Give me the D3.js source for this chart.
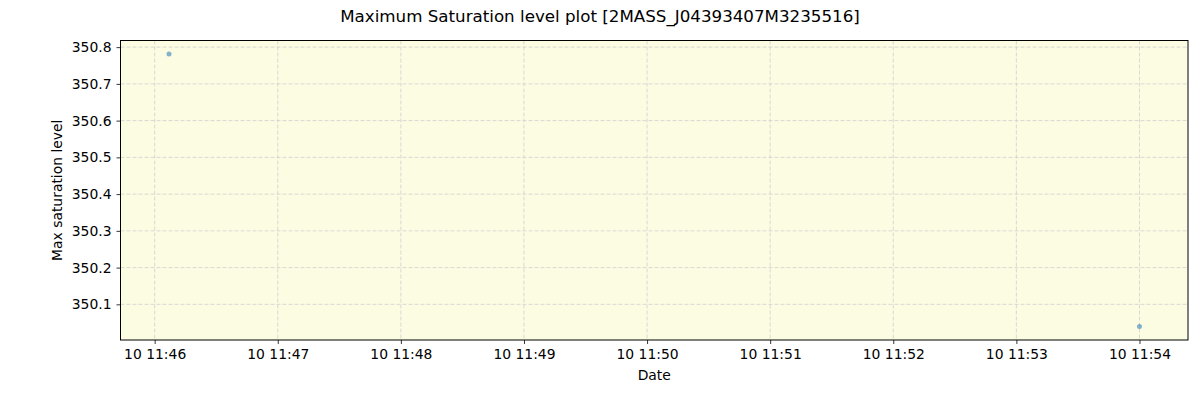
<!DOCTYPE html>
<html>
<head>
<meta charset="utf-8">
<script src="https://cdn.jsdelivr.net/npm/d3@7"></script>
<style>
  body { margin: 0; background: #fff; }
  text { font-family: "DejaVu Sans", sans-serif; }
</style>
</head>
<body>
<script>
// data
const times = ["2024-01-10T11:46:07", "2024-01-10T11:54:00"];
const levels = [350.781, 350.04];
const yTicks = [350.1, 350.2, 350.3, 350.4, 350.5, 350.6, 350.7, 350.8];
const xTickTimes = ["11:46", "11:47", "11:48", "11:49", "11:50", "11:51", "11:52", "11:53", "11:54"];

const width = 1200, height = 400;
const margin = {top: 40.5, right: 12, bottom: 60, left: 120.5};
const parse = d3.isoParse;
const points = times.map((t, i) => ({date: parse(t), value: levels[i]}));

const svg = d3.select('body').append('svg')
    .attr('width', width)
    .attr('height', height);

// matplotlib style 5% padding
const tExt = d3.extent(points, d => +d.date);
const tPad = (tExt[1] - tExt[0]) * 0.05;
const vExt = d3.extent(points, d => d.value);
const vPad = (vExt[1] - vExt[0]) * 0.05;

const x = d3.scaleTime()
    .domain([new Date(tExt[0] - tPad), new Date(tExt[1] + tPad)])
    .range([margin.left, width - margin.right]);
const y = d3.scaleLinear()
    .domain([vExt[0] - vPad, vExt[1] + vPad])
    .range([height - margin.bottom, margin.top]);

const xTicks = xTickTimes.map(t => parse("2024-01-10T" + t + ":00"));

svg.append('rect')
    .attr('x', margin.left).attr('y', margin.top)
    .attr('width', width - margin.right - margin.left)
    .attr('height', height - margin.bottom - margin.top)
    .attr('fill', '#fcfce3');

// grid
svg.append('g').selectAll('line')
    .data(xTicks).enter().append('line')
    .attr('x1', d => x(d)).attr('x2', d => x(d))
    .attr('y1', margin.top).attr('y2', height - margin.bottom)
    .attr('stroke', '#cfcfcf').attr('stroke-width', 0.8)
    .attr('stroke-dasharray', '4,2');
svg.append('g').selectAll('line')
    .data(yTicks).enter().append('line')
    .attr('x1', margin.left).attr('x2', width - margin.right)
    .attr('y1', d => y(d)).attr('y2', d => y(d))
    .attr('stroke', '#cfcfcf').attr('stroke-width', 0.8)
    .attr('stroke-dasharray', '4,2');

// points
svg.append('g').selectAll('circle')
    .data(points).enter().append('circle')
    .attr('cx', d => x(d.date))
    .attr('cy', d => y(d.value))
    .attr('r', 2.5)
    .attr('fill', '#1f77b4')
    .attr('opacity', 0.55);

// axes
const fmt = d3.timeFormat('%d %H:%M');
const xAxis = svg.append('g')
    .attr('transform', `translate(0,${height - margin.bottom})`)
    .call(d3.axisBottom(x).tickValues(xTicks).tickFormat(fmt).tickSize(4).tickPadding(5));
const yAxis = svg.append('g')
    .attr('transform', `translate(${margin.left},0)`)
    .call(d3.axisLeft(y).tickValues(yTicks).tickFormat(d3.format('.1f')).tickSize(4).tickPadding(5));

[xAxis, yAxis].forEach(a => {
    a.select('.domain').remove();
    a.selectAll('text').attr('font-size', '13.9px').attr('fill', '#000')
        .attr('font-family', '"DejaVu Sans", sans-serif');
    a.selectAll('line').attr('stroke', '#000').attr('stroke-width', 0.8);
});

svg.append('rect')
    .attr('x', margin.left).attr('y', margin.top)
    .attr('width', width - margin.right - margin.left)
    .attr('height', height - margin.bottom - margin.top)
    .attr('fill', 'none')
    .attr('stroke', '#000').attr('stroke-width', 1);

// labels
svg.append('text')
    .attr('x', 600).attr('y', 22)
    .attr('text-anchor', 'middle')
    .attr('font-size', '16.7px')
    .text('Maximum Saturation level plot [2MASS_J04393407M3235516]');

svg.append('text')
    .attr('x', (margin.left + width - margin.right) / 2).attr('y', 380)
    .attr('text-anchor', 'middle')
    .attr('font-size', '13.9px')
    .text('Date');

svg.append('text')
    .attr('transform', `translate(62,${(margin.top + height - margin.bottom) / 2}) rotate(-90)`)
    .attr('text-anchor', 'middle')
    .attr('font-size', '13.9px')
    .text('Max saturation level');
</script>
</body>
</html>
